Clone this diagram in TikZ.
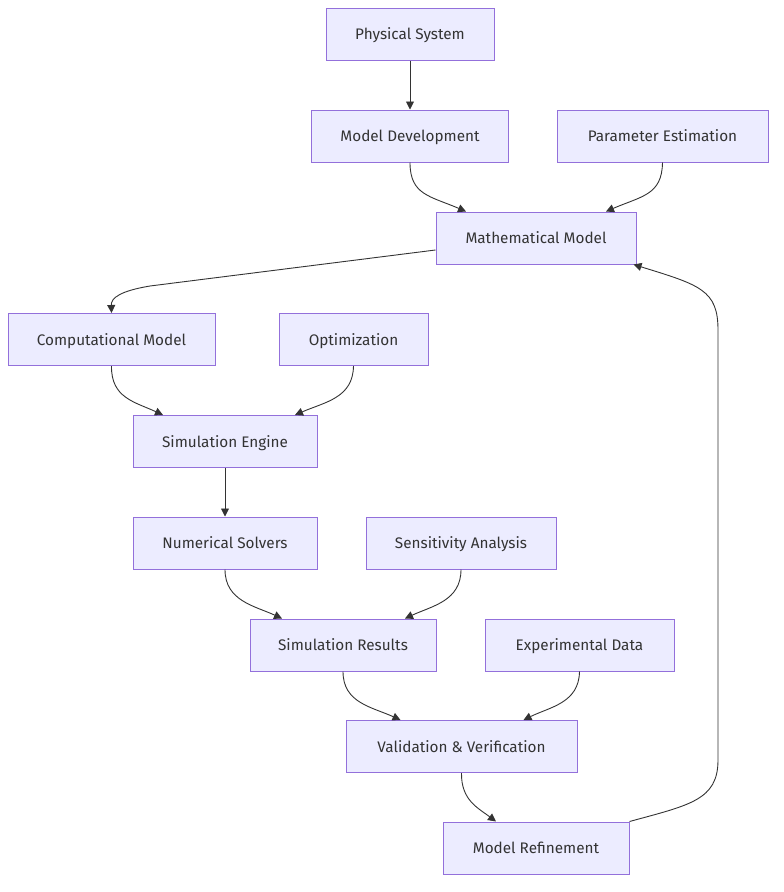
\documentclass[tikz,border=0pt]{standalone}
\usepackage{fontspec}
\setmainfont{Fira Sans}
\usetikzlibrary{arrows.meta}
\definecolor{boxfill}{HTML}{ECECFF}
\definecolor{boxline}{HTML}{9370DB}
\definecolor{ink}{HTML}{333333}
\begin{document}
\begin{tikzpicture}[x=1pt,y=-1pt,
  box/.style={draw=boxline,fill=boxfill,line width=1pt,minimum height=52pt,inner sep=0pt,text=ink,text height=12pt,text depth=1pt,font=\fontsize{15.3}{17}\selectfont},
  edge/.style={draw=ink,line width=0.9pt,-{Triangle[length=8pt,width=8pt]}}]
\useasboundingbox (0,0) rectangle (784,892);
\node[box,minimum width=168pt] (phys) at (410,34) {Physical System};
\node[box,minimum width=197pt] (mdev) at (410,136) {Model Development};
\node[box,minimum width=211pt] (pest) at (662.5,136) {Parameter Estimation};
\node[box,minimum width=200pt] (math) at (536,238) {Mathematical Model};
\node[box,minimum width=207pt] (comp) at (111.5,339.5) {Computational Model};
\node[box,minimum width=149pt] (opt) at (353.5,339.5) {Optimization};
\node[box,minimum width=184pt] (sim) at (225,441.5) {Simulation Engine};
\node[box,minimum width=184pt] (num) at (225,543) {Numerical Solvers};
\node[box,minimum width=190pt] (sens) at (461,543) {Sensitivity Analysis};
\node[box,minimum width=186pt] (res) at (343,645) {Simulation Results};
\node[box,minimum width=189pt] (exp) at (579.5,645) {Experimental Data};
\node[box,minimum width=231pt] (val) at (461.5,746.5) {Validation \& Verification};
\node[box,minimum width=186pt] (ref) at (536,848) {Model Refinement};

\draw[edge] (phys.south) -- (mdev.north);
\draw[edge] (mdev.south) .. controls (410,195) and (430,196) .. ([xshift=-70pt]math.north);
\draw[edge] (pest.south) .. controls (662,195) and (642,196) .. ([xshift=70pt]math.north);
\draw[edge] ([yshift=-12pt]math.west) -- (150,286) .. controls (120,291) and (111,298) .. (comp.north);
\draw[edge] (comp.south) .. controls (111,398) and (135,402) .. ([xshift=-62pt]sim.north);
\draw[edge] (opt.south) .. controls (353,398) and (325,402) .. ([xshift=70pt]sim.north);
\draw[edge] (sim.south) -- (num.north);
\draw[edge] (num.south) .. controls (225,601) and (255,606) .. ([xshift=-61pt]res.north);
\draw[edge] (sens.south) .. controls (461,601) and (432,606) .. ([xshift=62pt]res.north);
\draw[edge] (res.south) .. controls (343,703) and (372,707) .. ([xshift=-61pt]val.north);
\draw[edge] (exp.south) .. controls (579,703) and (550,707) .. ([xshift=62pt]val.north);
\draw[edge] (val.south) .. controls (461,800) and (478,808) .. ([xshift=-40pt]ref.north);
\draw[edge] (ref.north east) .. controls (690,805) and (718,800) .. (718,760) -- (718,330) .. controls (718,290) and (700,285) .. ([xshift=-3pt]math.south east);
\end{tikzpicture}
\end{document}
